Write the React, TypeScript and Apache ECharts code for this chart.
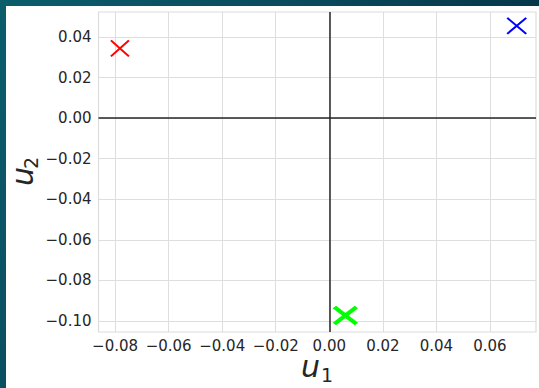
import React, { useEffect, useRef } from "react";
import * as echarts from "echarts";

const xTicks = [-0.08, -0.06, -0.04, -0.02, 0, 0.02, 0.04, 0.06];
const yTicks = [-0.1, -0.08, -0.06, -0.04, -0.02, 0, 0.02, 0.04];
const pointNames = ["a", "b", "c"];
const u1Values = [-0.0782, 0.07, 0.006];
const u2Values = [0.0344, 0.0455, -0.0973];
const pointColors = ["#ff0000", "#0000ff", "#00ff00"];
const pointWidths = [2, 2, 4.2];
const pointSizes = [[18, 16], [19, 16], [22, 17]];

const FONT = "DejaVu Sans";
const TICK_COLOR = "#262626";

const fmt = (v: number) => {
  const s = Math.abs(v) < 1e-9 ? "0.00" : v.toFixed(2);
  return s.replace("-", "\u2212");
};

export default function App() {
  const ref = useRef<HTMLDivElement>(null);
  useEffect(() => {
    if (!ref.current) return;
    const chart = echarts.init(ref.current, undefined, { renderer: "svg" });
    const series: any[] = pointNames.map((name, i) => ({
      type: "scatter",
      name,
      data: [[u1Values[i], u2Values[i]]],
      symbol: "path://M0,0L10,10M0,10L10,0",
      symbolSize: pointSizes[i],
      itemStyle: {
        color: "transparent",
        borderColor: pointColors[i],
        borderWidth: pointWidths[i],
        opacity: 1,
      },
      z: 5,
      silent: true,
    }));
    series.push({
      type: "scatter",
      data: [],
      silent: true,
      z: 3,
      markLine: {
        silent: true,
        symbol: "none",
        animation: false,
        label: { show: false },
        lineStyle: { color: "#262626", width: 1.5, type: "solid" },
        data: [{ xAxis: 0 }, { yAxis: 0 }],
      },
    });
    chart.setOption({
      animation: false,
      grid: {
        left: 92.5,
        top: 6,
        right: 3,
        bottom: 56,
        show: true,
        borderColor: "#dcdcdc",
        borderWidth: 1.2,
        backgroundColor: "transparent",
      },
      xAxis: {
        type: "value",
        min: -0.0862,
        max: 0.0772,
        axisLine: { show: false },
        axisTick: { show: false, customValues: xTicks },
        axisLabel: {
          customValues: xTicks,
          formatter: fmt,
          fontFamily: FONT,
          fontSize: 15,
          color: TICK_COLOR,
          margin: 6,
        },
        splitLine: { show: true, lineStyle: { color: "#dedede", width: 1 } },
      },
      yAxis: {
        type: "value",
        min: -0.1054,
        max: 0.0523,
        axisLine: { show: false },
        axisTick: { show: false, customValues: yTicks },
        axisLabel: {
          customValues: yTicks,
          formatter: fmt,
          fontFamily: FONT,
          fontSize: 15,
          color: TICK_COLOR,
          margin: 7,
        },
        splitLine: { show: true, lineStyle: { color: "#dedede", width: 1 } },
      },
      graphic: [
        {
          type: "text",
          x: 295,
          y: 360.6,
          style: {
            text: "u",
            fontFamily: FONT,
            fontStyle: "italic",
            fontSize: 30,
            fill: TICK_COLOR,
            align: "left",
            verticalAlign: "middle",
          },
        },
        {
          type: "text",
          x: 315,
          y: 369.4,
          style: {
            text: "1",
            fontFamily: FONT,
            fontSize: 19,
            fill: TICK_COLOR,
            align: "left",
            verticalAlign: "middle",
          },
        },
        {
          type: "group",
          x: 27,
          y: 180,
          rotation: Math.PI / 2,
          children: [
            {
              type: "text",
              x: 0,
              y: -10.4,
              style: {
                text: "u",
                fontFamily: FONT,
                fontStyle: "italic",
                fontSize: 30,
                fill: TICK_COLOR,
                align: "left",
                verticalAlign: "middle",
              },
            },
            {
              type: "text",
              x: 17,
              y: -1.6,
              style: {
                text: "2",
                fontFamily: FONT,
                fontSize: 19,
                fill: TICK_COLOR,
                align: "left",
                verticalAlign: "middle",
              },
            },
          ],
        },
      ],
      series,
    });
    return () => chart.dispose();
  }, []);

  return (
    <div
      style={{
        position: "fixed",
        left: 0,
        top: 0,
        width: 539,
        height: 388,
        background: "linear-gradient(120deg, #0b5d6c 0%, #0a4a5c 40%, #06384a 70%, #052d3e 100%)",
        overflow: "hidden",
      }}
    >
      <div
        style={{
          position: "absolute",
          left: 6,
          top: 6,
          width: 533,
          height: 382,
          background: "#ffffff",
        }}
      >
        <div ref={ref} style={{ width: 533, height: 382 }} />
      </div>
    </div>
  );
}
